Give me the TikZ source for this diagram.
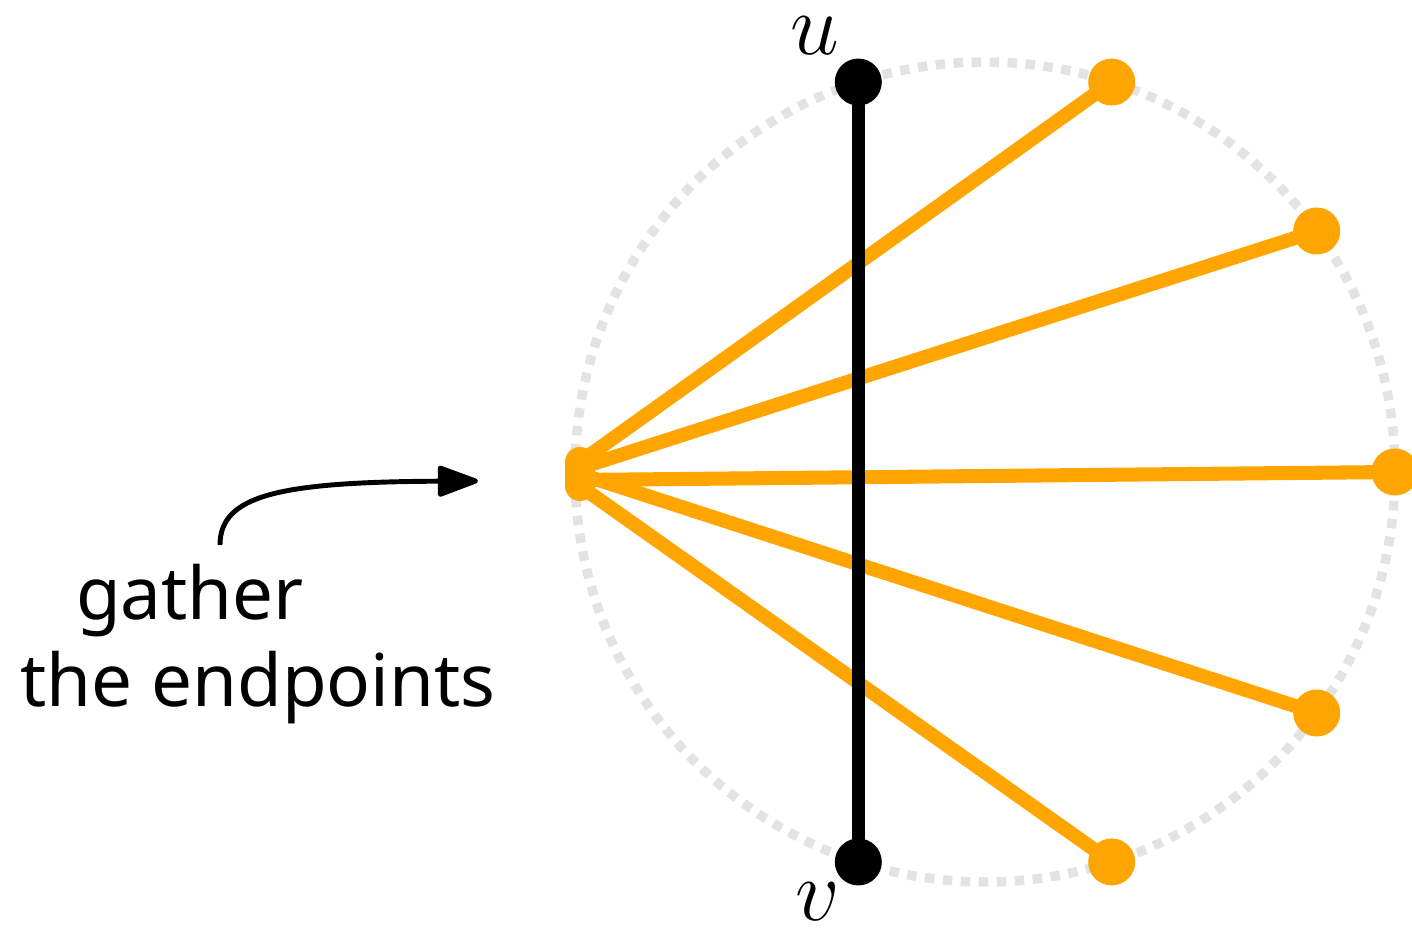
\documentclass[tikz,border=0pt]{standalone}
\usepackage{fontspec}
\setmainfont{Noto Sans}
\usetikzlibrary{arrows.meta}
\definecolor{ring_gray}{RGB}{226,227,227}
\definecolor{edge_orange}{RGB}{255,165,0}
\tikzset{
	ring/.style = {
		draw=ring_gray,
		line width=2.7pt,
		dash pattern=on 0.095cm off 0.085cm
	},
	edge_o/.style = {
		draw=edge_orange,
		line width=4pt
	},
	edge_b/.style = {
		draw=black,
		line width=3.6pt
	},
	dot/.style = {
		circle,
		inner sep=0pt,
		minimum size=0.47cm
	},
	dot_o/.style = {
		dot,
		fill=edge_orange
	},
	dot_g/.style = {
		dot,
		fill=edge_orange,
		minimum size=0.3cm
	},
	dot_b/.style = {
		dot,
		fill=black
	},
	note/.style = {
		font=\fontsize{20.7}{25}\selectfont,
		anchor=base
	},
	letter/.style = {
		inner sep=0pt,
		font=\fontsize{25}{30}\selectfont
	}
}
\begin{document}
\begin{tikzpicture}
\useasboundingbox (-9.85,-4.58) rectangle (4.27,4.72);
\draw[ring] (0,0) circle (4.1);
% endpoints on the circle
\coordinate (e1) at (72:4.1);
\coordinate (e2) at (36:4.1);
\coordinate (e3) at (0:4.1);
\coordinate (e4) at (-36:4.1);
\coordinate (e5) at (-72:4.1);
\coordinate (u) at (108:4.1);
\coordinate (v) at (-108:4.1);
% gathered endpoints
\coordinate (g1) at (-4.05,0.10);
\coordinate (g2) at (-4.05,0.04);
\coordinate (g3) at (-4.05,-0.08);
\coordinate (g4) at (-4.05,-0.02);
\coordinate (g5) at (-4.05,-0.14);
\foreach \i in {1,...,5}
	\draw[edge_o] (g\i) -- (e\i);
\foreach \i in {1,...,5} {
	\node[dot_o] (n_e\i) at (e\i) {};
	\node[dot_g] (n_g\i) at (g\i) {};
}
\draw[edge_b] (u) -- (v);
\node[dot_b] (n_u) at (u) {};
\node[dot_b] (n_v) at (v) {};
\node[letter] (lab_u) at (-1.70,4.36) {$u$};
\node[letter] (lab_v) at (-1.67,-4.30) {$v$};
% label and arrow
\node[note] (t_gather) at (-7.95,-1.48) {gather};
\node[note] (t_end) at (-7.27,-2.35) {the endpoints};
\coordinate (a_start) at (-7.65,-0.73);
\coordinate (a_tip) at (-5.07,-0.09);
\draw[line width=1.4pt, -{Triangle[length=0.45cm,width=0.32cm,round]}]
	(a_start) .. controls (-7.65,-0.23) and (-7.05,-0.10) .. (a_tip);
\end{tikzpicture}
\end{document}
